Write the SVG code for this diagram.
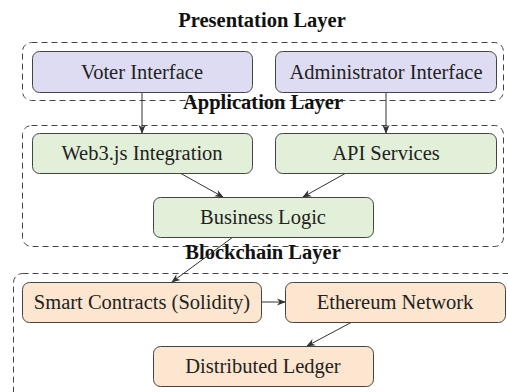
<svg xmlns="http://www.w3.org/2000/svg" width="508" height="392" viewBox="0 0 508 392">
<style>
.layer{fill:none;stroke:#444;stroke-width:1;stroke-dasharray:6 4}
.title{font-weight:bold;font-size:20.5px;text-anchor:middle;fill:#111}
.node rect{stroke:#444;stroke-width:1}
.node text{font-size:20.5px;text-anchor:middle;fill:#222}
.p rect{fill:#dedcf2}
.a rect{fill:#e2efd9}
.b rect{fill:#fde6cf}
.edge{stroke:#333;stroke-width:1;fill:none;marker-end:url(#arr)}
</style>
<defs>
<marker id="arr" viewBox="0 0 10 10" refX="9" refY="5" markerWidth="9" markerHeight="9" markerUnits="userSpaceOnUse" orient="auto">
<path d="M0,1 L10,5 L0,9 L3,5 Z" fill="#333"/>
</marker>
</defs>
<rect width="508" height="392" fill="#fff"/>
<g font-family="Liberation Serif, Times New Roman, DejaVu Serif, serif">
<g id="layers">
<rect class="layer" x="22.5" y="42.5" width="481" height="58" rx="9"/>
<rect class="layer" x="22.5" y="125.5" width="481" height="121" rx="9"/>
<rect class="layer" x="13.5" y="273.5" width="510" height="140" rx="9"/>
<text class="title" x="262" y="27">Presentation Layer</text>
<text class="title" x="263" y="109">Application Layer</text>
<text class="title" x="263" y="259">Blockchain Layer</text>
</g>
<g id="connectors">
<line class="edge" x1="142" y1="92" x2="142" y2="133"/>
<line class="edge" x1="386" y1="92" x2="386" y2="133"/>
<line class="edge" x1="180" y1="173" x2="223" y2="197"/>
<line class="edge" x1="346" y1="173" x2="303" y2="197"/>
<line class="edge" x1="233" y1="237" x2="172" y2="282"/>
<line class="edge" x1="261" y1="302" x2="285" y2="302"/>
<line class="edge" x1="352" y1="322" x2="307" y2="346"/>
</g>
<g id="voter" class="node p"><rect x="32.5" y="51.5" width="220" height="41" rx="7"/><text x="142" y="79">Voter Interface</text></g>
<g id="admin" class="node p"><rect x="275.5" y="51.5" width="221" height="41" rx="7"/><text x="386" y="79">Administrator Interface</text></g>
<g id="web3" class="node a"><rect x="32.5" y="133.5" width="220" height="40" rx="7"/><text x="142" y="160">Web3.js Integration</text></g>
<g id="api" class="node a"><rect x="275.5" y="133.5" width="221" height="40" rx="7"/><text x="386" y="160">API Services</text></g>
<g id="business" class="node a"><rect x="153.5" y="197.5" width="220" height="40" rx="7"/><text x="263" y="224">Business Logic</text></g>
<g id="smart" class="node b"><rect x="22.5" y="282.5" width="239" height="40" rx="7"/><text x="142" y="309">Smart Contracts (Solidity)</text></g>
<g id="ethereum" class="node b"><rect x="285.5" y="282.5" width="220" height="40" rx="7"/><text x="395" y="309">Ethereum Network</text></g>
<g id="ledger" class="node b"><rect x="153.5" y="346.5" width="220" height="40" rx="7"/><text x="263" y="373">Distributed Ledger</text></g>
</g>
</svg>
